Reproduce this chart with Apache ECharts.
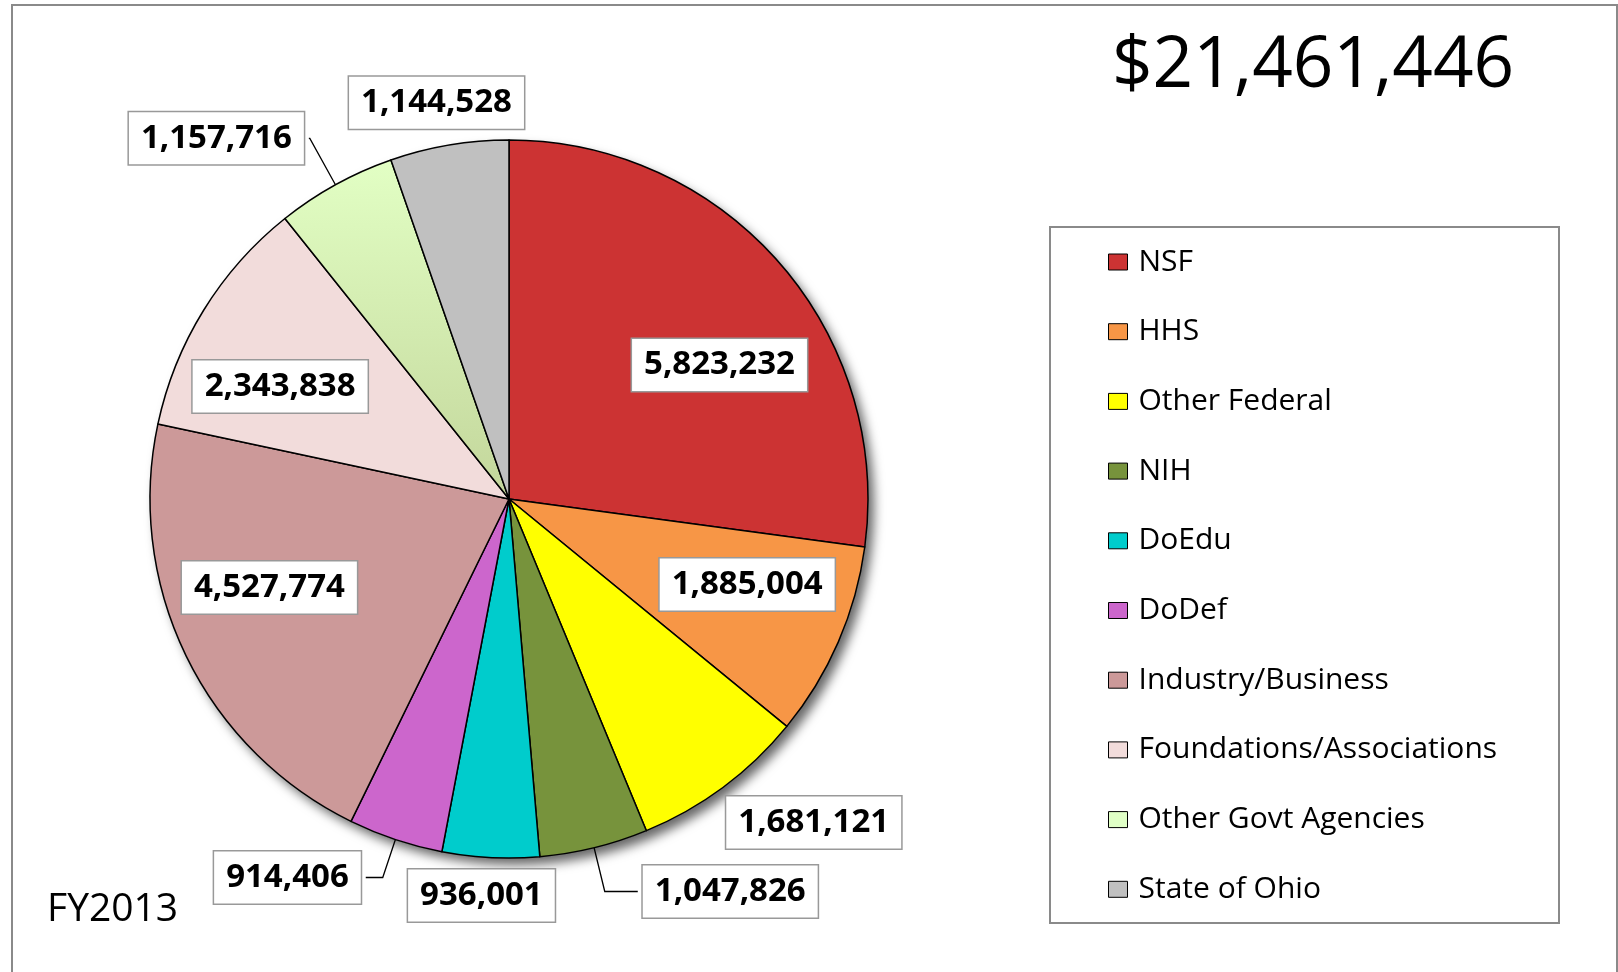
<!DOCTYPE html>
<html>
<head>
<meta charset="utf-8">
<script src="https://cdn.jsdelivr.net/npm/echarts@6/dist/echarts.min.js"></script>
<style>
  html, body { margin: 0; background: #fff; }
  #chart { width: 1618px; height: 972px; }
</style>
</head>
<body>
<div id="chart"></div>
<script>
// funding sources FY2013
var categories = ['NSF', 'HHS', 'Other Federal', 'NIH', 'DoEdu', 'DoDef',
  'Industry/Business', 'Foundations/Associations', 'Other Govt Agencies', 'State of Ohio'];
var amounts = [5823232, 1885004, 1681121, 1047826, 936001, 914406,
  4527774, 2343838, 1157716, 1144528];
var totalText = '$21,461,446';
var yearText = 'FY2013';

var greenGrad = new echarts.graphic.LinearGradient(0, 0, 0, 1, [
  { offset: 0, color: '#e2ffc4' },
  { offset: 1, color: '#c3d69b' }
]);
var sliceColors = ['#cc3333', '#f79646', '#ffff00', '#77933c', '#00cccc', '#cc66cc',
  '#cc9999', '#f2dcdb', greenGrad, '#c0c0c0'];

// which slices carry their label inside, and a small nudge for each of them
var insideIdx = [0, 1, 6, 7];
var insideNudge = { 0: [15, 37], 1: [0, -18], 6: [-6, -25], 7: [-8, 24] };
// outside labels: [length, length2, show line]
var outerCfg = {
  2: [44, -28, false],
  3: [45, 33, true],
  4: [38, -71, false],
  5: [40, 17, true],
  8: [53, 1, true],
  9: [43, -87, false]
};

var cx = 509, cy = 499, R = 359;
var font = 'Open Sans';

var labelBox = {
  fontFamily: font,
  fontSize: 33,
  fontWeight: 'bold',
  color: '#000',
  lineHeight: 40,
  backgroundColor: '#fff',
  borderColor: '#999',
  borderWidth: 1.5,
  padding: [6, 12],
  formatter: function (p) { return echarts.format.addCommas(p.value); }
};

var total = 0;
amounts.forEach(function (v) { total += v; });

var mainData = categories.map(function (name, i) {
  var cfg = outerCfg[i];
  var item = {
    name: name,
    value: amounts[i],
    itemStyle: { color: sliceColors[i] }
  };
  if (cfg) {
    item.label = { show: true, position: 'outside' };
    item.labelLine = { show: cfg[2], length: cfg[0], length2: cfg[1] };
  } else {
    item.label = { show: false };
    item.labelLine = { show: false };
  }
  return item;
});

var innerData = categories.map(function (name, i) {
  return {
    name: name,
    value: amounts[i],
    label: { show: insideIdx.indexOf(i) >= 0 }
  };
});

var legendData = categories.map(function (name, i) {
  var d = { name: name };
  if (i === 8) d.itemStyle = { color: '#e0ffc6' };
  return d;
});

var chart = echarts.init(document.getElementById('chart'));
chart.setOption({
  animation: false,
  backgroundColor: '#fff',
  title: [{
    text: totalText,
    left: 1112, top: 27, padding: 0,
    textStyle: { fontFamily: font, fontSize: 71, fontWeight: 'normal', color: '#000', lineHeight: 80 }
  }, {
    text: yearText,
    left: 47, top: 887, padding: 0,
    textStyle: { fontFamily: font, fontSize: 39, fontWeight: 'normal', color: '#000', lineHeight: 46 }
  }],
  legend: {
    data: legendData,
    orient: 'vertical',
    left: 1108, top: 247,
    padding: 0,
    itemWidth: 19, itemHeight: 16,
    itemGap: 39.7,
    icon: 'rect',
    selectedMode: false,
    itemStyle: { borderColor: '#000', borderWidth: 1 },
    textStyle: { fontFamily: font, fontSize: 30, color: '#000', lineHeight: 30, padding: [0, 0, 0, 6] }
  },
  graphic: [{
    type: 'rect', silent: true,
    shape: { x: 12, y: 5, width: 1605, height: 1000 },
    style: { fill: 'none', stroke: '#8a8a8a', lineWidth: 2 }
  }, {
    type: 'rect', silent: true,
    shape: { x: 1050, y: 227, width: 509, height: 696 },
    style: { fill: 'none', stroke: '#8a8a8a', lineWidth: 2 }
  }],
  series: [{
    // drop shadow under the whole pie
    type: 'pie',
    name: 'shadow',
    silent: true,
    center: [cx, cy],
    radius: R,
    label: { show: false },
    labelLine: { show: false },
    itemStyle: {
      color: '#fff',
      shadowBlur: 11,
      shadowOffsetX: 6,
      shadowOffsetY: 7,
      shadowColor: 'rgba(0,0,0,0.6)'
    },
    data: [{ name: '', value: total }]
  }, {
    type: 'pie',
    name: 'Funding',
    center: [cx, cy],
    radius: R,
    startAngle: 90,
    clockwise: true,
    avoidLabelOverlap: false,
    minShowLabelAngle: 0,
    itemStyle: { borderColor: '#000', borderWidth: 1.5 },
    label: Object.assign({ distanceToLabelLine: 5 }, labelBox),
    labelLine: { lineStyle: { color: '#000', width: 1.3 } },
    emphasis: { disabled: true },
    data: mainData
  }, {
    // transparent ring used only to place the inside labels at ~0.71 R
    type: 'pie',
    name: 'Funding labels',
    silent: true,
    center: [cx, cy],
    radius: R * 1.43,
    startAngle: 90,
    clockwise: true,
    avoidLabelOverlap: false,
    itemStyle: { color: 'rgba(0,0,0,0)', borderWidth: 0 },
    label: Object.assign({ position: 'inside' }, labelBox),
    labelLine: { show: false },
    labelLayout: function (params) {
      var n = insideNudge[params.dataIndex];
      return n ? { dx: n[0], dy: n[1] } : {};
    },
    emphasis: { disabled: true },
    data: innerData
  }]
});
</script>
</body>
</html>
